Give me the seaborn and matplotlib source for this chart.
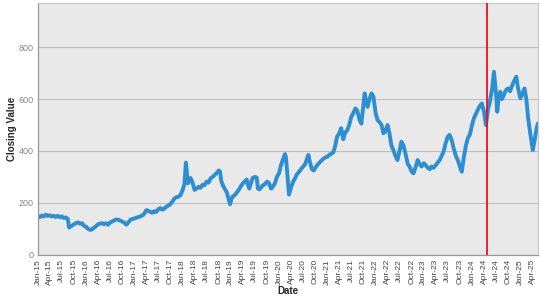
import matplotlib
matplotlib.use("Agg")
import matplotlib.pyplot as plt
import matplotlib.dates as mdates
import seaborn as sns
import pandas as pd

dates = [
    "2015-01-02", "2015-01-15", "2015-02-01", "2015-02-15", "2015-03-01", "2015-03-15", "2015-04-01", "2015-04-15",
    "2015-05-01", "2015-05-15", "2015-06-01", "2015-06-15", "2015-07-01", "2015-07-15", "2015-08-01", "2015-08-15",
    "2015-08-25", "2015-09-05", "2015-09-15", "2015-10-01", "2015-10-15", "2015-11-01", "2015-11-15", "2015-12-01",
    "2015-12-15",
    "2016-01-01", "2016-01-15", "2016-02-01", "2016-02-15", "2016-03-01", "2016-03-15", "2016-04-01", "2016-04-15",
    "2016-05-01", "2016-05-15", "2016-06-01", "2016-06-15", "2016-07-01", "2016-07-15", "2016-08-01", "2016-08-15",
    "2016-09-01", "2016-09-15", "2016-10-01", "2016-10-15", "2016-11-01", "2016-11-15", "2016-12-01", "2016-12-15",
    "2017-01-01", "2017-01-15", "2017-02-01", "2017-02-15", "2017-03-01", "2017-03-15", "2017-04-01", "2017-04-15",
    "2017-05-01", "2017-05-15", "2017-06-01", "2017-06-15", "2017-07-01", "2017-07-15", "2017-08-01", "2017-08-15",
    "2017-09-01", "2017-09-15", "2017-10-01", "2017-10-15", "2017-11-01", "2017-11-15", "2017-12-01", "2017-12-15",
    "2018-01-01", "2018-01-15", "2018-01-25", "2018-02-01", "2018-02-10", "2018-02-20", "2018-03-01", "2018-03-15",
    "2018-04-01", "2018-04-15", "2018-05-01", "2018-05-15", "2018-06-01", "2018-06-15", "2018-07-01", "2018-07-15",
    "2018-08-01", "2018-08-15", "2018-09-01", "2018-09-15", "2018-10-01", "2018-10-10", "2018-10-20", "2018-11-01",
    "2018-11-15", "2018-12-01", "2018-12-15", "2018-12-26",
    "2019-01-05", "2019-01-15", "2019-02-01", "2019-02-15", "2019-03-01", "2019-03-15", "2019-04-01", "2019-04-15",
    "2019-05-01", "2019-05-10", "2019-05-20", "2019-06-01", "2019-06-15", "2019-07-01", "2019-07-15", "2019-07-25",
    "2019-08-05", "2019-08-15", "2019-09-01", "2019-09-15", "2019-10-01", "2019-10-15", "2019-11-01", "2019-11-15",
    "2019-12-01", "2019-12-15",
    "2020-01-01", "2020-01-15", "2020-02-01", "2020-02-15", "2020-02-22", "2020-03-05", "2020-03-16", "2020-04-01",
    "2020-04-15", "2020-05-01", "2020-05-15", "2020-06-01", "2020-06-15", "2020-07-01", "2020-07-15", "2020-08-10",
    "2020-08-20", "2020-09-05", "2020-09-20", "2020-10-01", "2020-10-15", "2020-11-01", "2020-11-15", "2020-12-01",
    "2020-12-15",
    "2021-01-01", "2021-01-15", "2021-02-01", "2021-02-15", "2021-03-01", "2021-03-15", "2021-04-01", "2021-04-15",
    "2021-05-01", "2021-05-15", "2021-06-01", "2021-06-15", "2021-07-01", "2021-07-15", "2021-08-01", "2021-08-15",
    "2021-09-01", "2021-09-15", "2021-10-01", "2021-10-10", "2021-10-20", "2021-11-01", "2021-11-15", "2021-12-01",
    "2021-12-15",
    "2022-01-01", "2022-01-15", "2022-02-01", "2022-02-15", "2022-03-01", "2022-03-15", "2022-04-01", "2022-04-15",
    "2022-05-01", "2022-05-15", "2022-06-01", "2022-06-15", "2022-07-01", "2022-07-15", "2022-08-01", "2022-08-15",
    "2022-09-01", "2022-09-15", "2022-10-01", "2022-10-15", "2022-11-01", "2022-11-15", "2022-12-01", "2022-12-15",
    "2023-01-01", "2023-01-15", "2023-02-01", "2023-02-15", "2023-03-01", "2023-03-15", "2023-04-01", "2023-04-15",
    "2023-05-01", "2023-05-15", "2023-06-01", "2023-06-15", "2023-07-01", "2023-07-15", "2023-08-01", "2023-08-15",
    "2023-09-01", "2023-09-15", "2023-10-01", "2023-10-15", "2023-11-01", "2023-11-15", "2023-12-01", "2023-12-15",
    "2024-01-01", "2024-01-15", "2024-02-01", "2024-02-15", "2024-03-01", "2024-03-15", "2024-04-01", "2024-04-15",
    "2024-05-01", "2024-05-15", "2024-06-01", "2024-06-15", "2024-07-01", "2024-07-10", "2024-07-20", "2024-08-01",
    "2024-08-15", "2024-09-01", "2024-09-15", "2024-10-01", "2024-10-15", "2024-11-01", "2024-11-15", "2024-12-01",
    "2024-12-15",
    "2025-01-01", "2025-01-15", "2025-02-01", "2025-02-15", "2025-03-01", "2025-03-15", "2025-04-05", "2025-04-15",
    "2025-04-25", "2025-05-05", "2025-05-14",
]

values = [
    150, 145, 152, 148, 155, 150, 152, 148,
    150, 146, 150, 145, 148, 142, 144, 138,
    105, 110, 112, 118, 122, 125, 120, 122,
    112,
    108, 100, 96, 98, 105, 110, 118, 120,
    122, 118, 122, 116, 125, 128, 133, 136,
    135, 132, 128, 124, 116, 125, 135, 138,
    140, 143, 146, 148, 152, 158, 172, 170,
    165, 162, 168, 165, 176, 180, 174, 178,
    186, 190, 196, 205, 218, 222, 224, 230,
    250, 275, 355, 320, 275, 290, 296, 280,
    250, 255, 262, 258, 270, 268, 282, 278,
    295, 300, 308, 315, 325, 322, 285, 268,
    255, 240, 215, 195,
    215, 225, 231, 240, 250, 262, 275, 282,
    290, 270, 255, 275, 296, 300, 298, 255,
    252, 258, 268, 272, 282, 278, 255, 262,
    276, 300,
    315, 345, 370, 388, 375, 300, 232, 260,
    280, 295, 310, 320, 330, 340, 348, 385,
    360, 330, 325, 335, 345, 355, 362, 370,
    375,
    378, 385, 390, 395, 420, 455, 468, 488,
    445, 470, 481, 500, 532, 545, 564, 555,
    520, 505, 580, 622, 590, 570, 600, 622,
    610,
    545, 520, 510, 500, 468, 475, 500, 470,
    420, 404, 380, 365, 400, 436, 420, 390,
    350, 340, 320, 314, 340, 365, 350, 340,
    353, 345, 335, 330, 340, 335, 345, 355,
    365, 380, 400, 430, 455, 462, 440, 410,
    380, 365, 340, 320, 380, 420, 450, 462,
    500, 526, 545, 560, 575, 583, 550, 500,
    560, 590, 640, 705, 620, 551, 600, 628,
    600, 620, 635, 641, 630, 654, 670, 686,
    640,
    603, 620, 641, 600, 526, 474, 404, 430,
    461, 490, 506,
]

event_date = "2024-04-25"
y_ticks = [0, 200, 400, 600, 800]

sns.set_theme(style="white")
plt.rcParams["font.family"] = ["Liberation Sans", "DejaVu Sans"]

fig = plt.figure(figsize=(5.42, 2.96), dpi=100)
ax = fig.add_axes([0.070, 0.139, 0.923, 0.851])

df = pd.DataFrame({"Date": pd.to_datetime(dates), "Closing Value": values})
sns.lineplot(data=df, x="Date", y="Closing Value", ax=ax, color="#2b8fd1", linewidth=2.8)
ax.axvline(pd.Timestamp(event_date), color="#e8141b", lw=1.3, zorder=5)

ax.set_facecolor("#e9e9e9")
ax.set_ylim(0, 970)
ax.set_xlim(pd.Timestamp("2015-01-01"), pd.Timestamp("2025-05-16"))
ax.set_yticks(y_ticks)
ax.grid(axis="y", color="#bdbdbd", lw=0.8)
ax.grid(axis="x", visible=False)
ax.set_axisbelow(True)

ax.xaxis.set_major_locator(mdates.MonthLocator(bymonth=[1, 4, 7, 10]))
ax.xaxis.set_major_formatter(mdates.DateFormatter("%b-%y"))
ax.tick_params(axis="x", labelsize=6, rotation=90, colors="#444444", length=2, pad=1)
ax.tick_params(axis="y", labelsize=6.5, colors="#888888", length=2, pad=1)

for side in ["left", "bottom"]:
    ax.spines[side].set_color("#999999")
    ax.spines[side].set_linewidth(0.9)
for side in ["top", "right"]:
    ax.spines[side].set_color("#c8c8c8")
    ax.spines[side].set_linewidth(0.9)

ax.set_xlabel("Date", fontsize=7, fontweight="bold", labelpad=1)
ax.set_ylabel("Closing Value", fontsize=7, fontweight="bold", labelpad=1)

fig.savefig("out.png", dpi=100)
